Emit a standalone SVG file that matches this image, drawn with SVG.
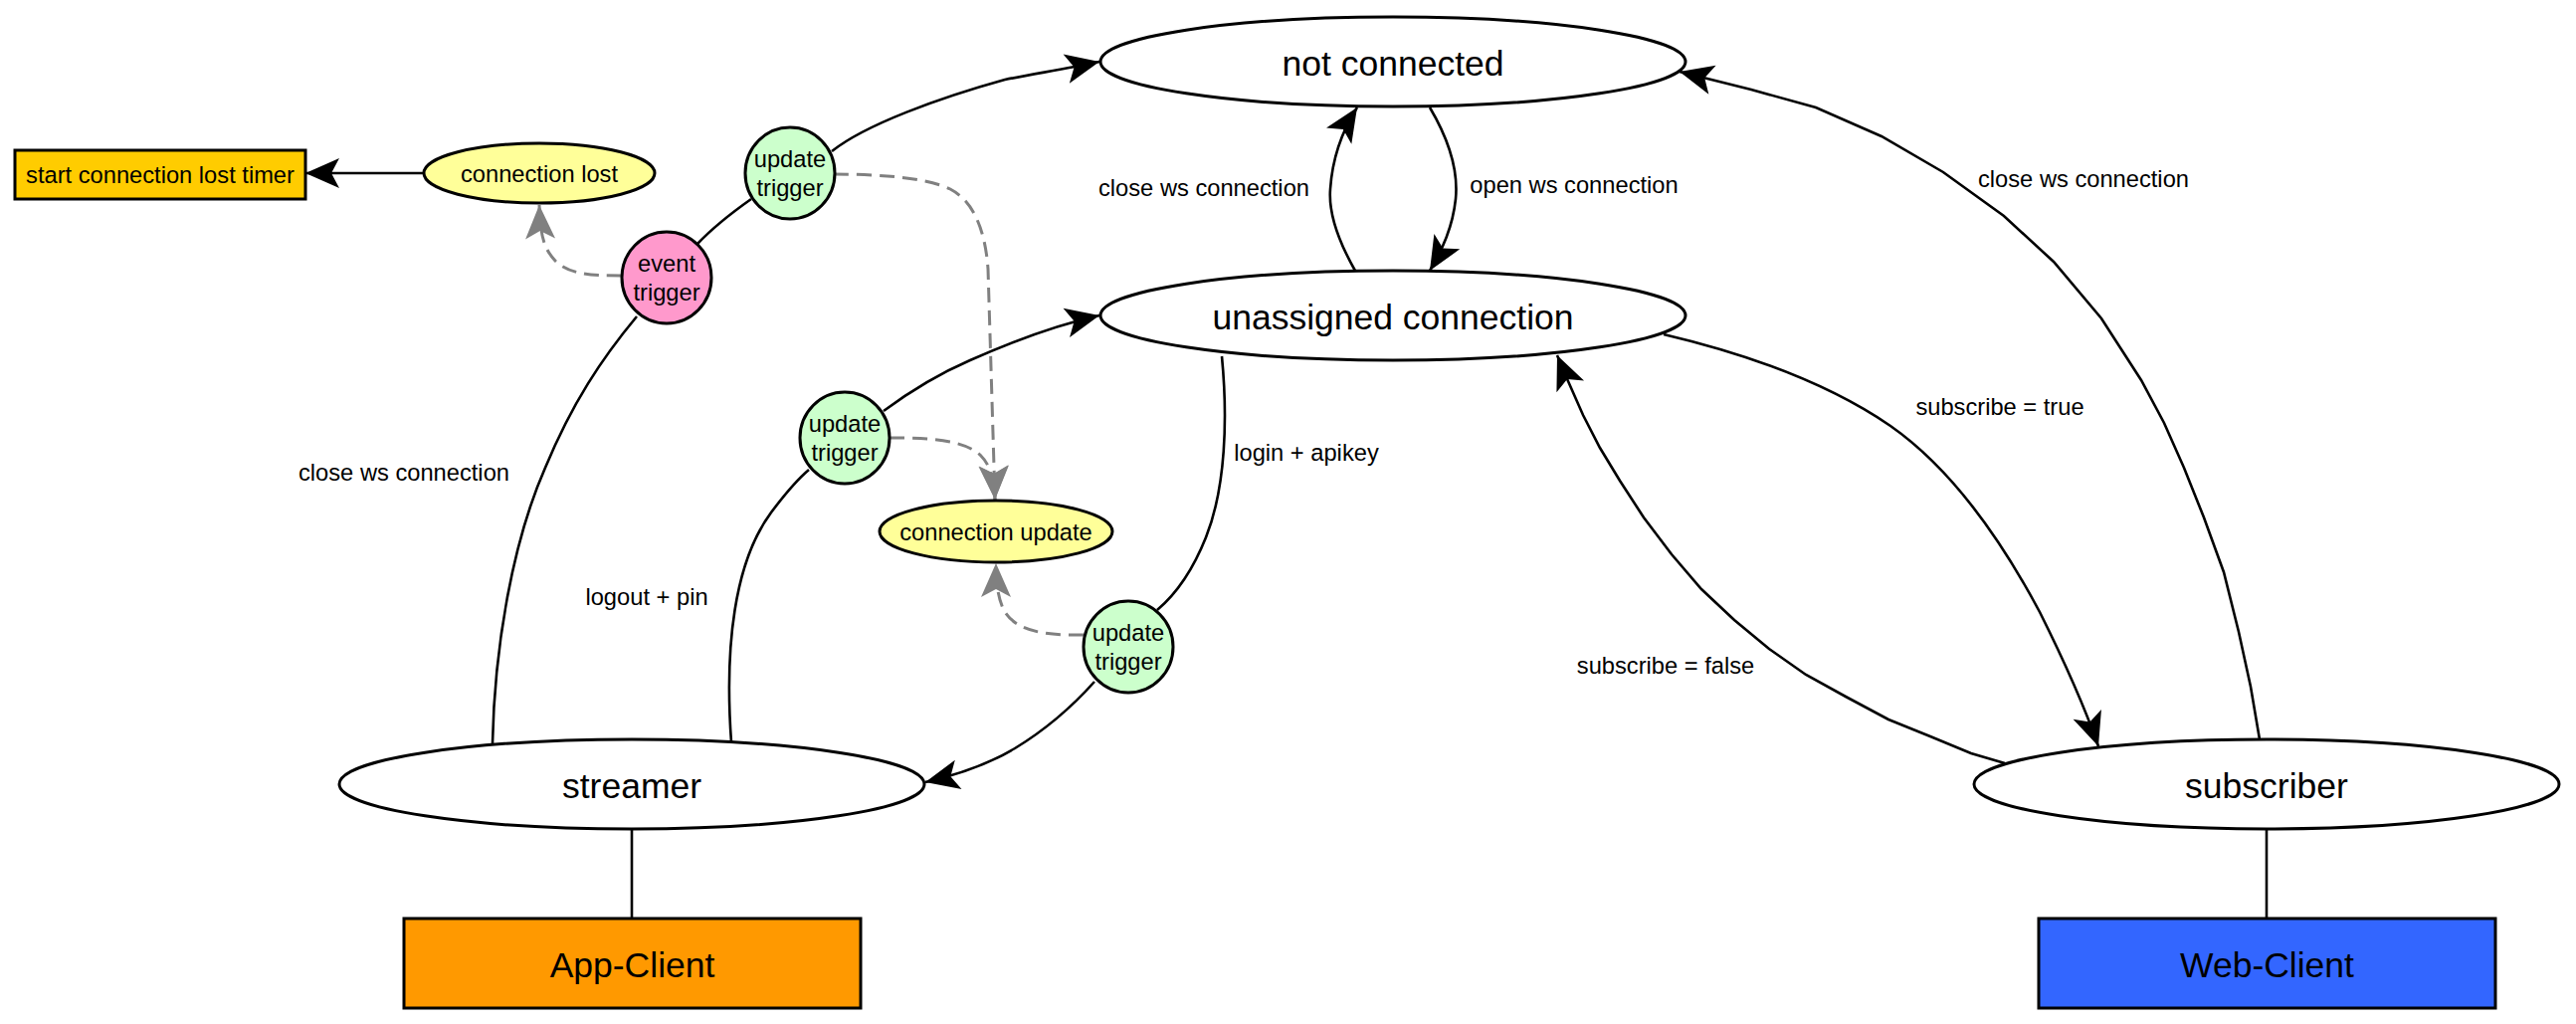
<svg xmlns="http://www.w3.org/2000/svg" width="2589" height="1029" viewBox="0 0 2589 1029">
<style>
text{font-family:"Liberation Sans",Arial,sans-serif;fill:#000}
.big{font-size:35.5px;text-anchor:middle}
.sm{font-size:23.7px;text-anchor:middle}
.lbl{font-size:23.7px;text-anchor:middle}
.node{stroke:#000;stroke-width:3}
.e{fill:none;stroke:#000;stroke-width:2.6}
.d{fill:none;stroke:#808080;stroke-width:3;stroke-dasharray:15 8}
</style>
<defs>
<marker id="ah" viewBox="-36 -17 38 34" refX="0" refY="0" markerWidth="38" markerHeight="34" markerUnits="userSpaceOnUse" orient="auto">
<path d="M0,0 L-34,-15 L-26,0 L-34,15 Z" fill="#000"/>
</marker>
<marker id="ag" viewBox="-36 -17 38 34" refX="0" refY="0" markerWidth="38" markerHeight="34" markerUnits="userSpaceOnUse" orient="auto">
<path d="M0,0 L-34,-15 L-26,0 L-34,15 Z" fill="#808080"/>
</marker>
</defs>
<rect width="2589" height="1029" fill="#fff"/>
<g id="connectors">
<path class="e" d="M495,747 C497,650 515,545 548,470 C575,405 605,360 640,318"/>
<path class="e" d="M701,245 C720,225 738,212 755,200"/>
<path class="e" d="M836,152 C870,125 945,98 1010,80 C1040,74 1072,69 1105,62" marker-end="url(#ah)"/>
<path class="e" d="M735,746 C728,650 738,565 775,515 C790,495 800,483 813,472"/>
<path class="e" d="M888,413 C915,393 945,375 975,362 C1020,342 1060,327 1105,317" marker-end="url(#ah)"/>
<path class="e" d="M1228,358 C1234,420 1232,490 1212,540 C1198,575 1182,597 1163,613"/>
<path class="e" d="M1100,685 C1075,713 1048,735 1020,752 C995,767 965,778 930,786" marker-end="url(#ah)"/>
<path class="e" d="M1437,108 C1456,140 1466,170 1463,200 C1460,228 1450,250 1437,272" marker-end="url(#ah)"/>
<path class="e" d="M1362,272 C1345,242 1335,215 1337,190 C1339,160 1348,133 1364,108" marker-end="url(#ah)"/>
<path class="e" d="M2271,743 L2262,690 L2250,635 L2235,575 L2215,520 L2195,470 L2175,425 L2152,382 L2112,320 L2064,263 L2014,217 L1953,173 L1891,137 L1825,108 L1760,90 L1688,72" marker-end="url(#ah)"/>
<path class="e" d="M1672,336 C1740,352 1830,380 1900,428 C1960,470 2010,540 2050,615 C2075,665 2095,710 2109,750" marker-end="url(#ah)"/>
<path class="e" d="M2015,767 L1981,757 L1940,740 L1898,723 L1855,700 L1815,678 L1778,652 L1743,623 L1710,592 L1680,557 L1652,520 L1628,483 L1608,450 L1591,417 L1576,383 L1565,357" marker-end="url(#ah)"/>
<path class="e" d="M426,174 L307,174" marker-end="url(#ah)"/>
<path class="e" d="M635,833 L635,923"/>
<path class="e" d="M2278,833 L2278,923"/>
<path class="d" d="M625,277 C595,277 572,276 558,262 C547,250 543,238 542,206" marker-end="url(#ag)"/>
<path class="d" d="M838,175 C880,175 930,178 955,190 C978,202 990,230 993,270 L1000,502" marker-end="url(#ag)"/>
<path class="d" d="M894,440 C935,440 968,442 985,457 C995,467 999,480 1000,502" marker-end="url(#ag)"/>
<path class="d" d="M1089,638 C1050,639 1022,634 1010,615 C1003,603 1001,585 1001,566" marker-end="url(#ag)"/>
<text class="lbl" x="406" y="483">close ws connection</text>
<text class="lbl" x="650" y="608">logout + pin</text>
<text class="lbl" x="1313" y="463">login + apikey</text>
<text class="lbl" x="1210" y="197">close ws connection</text>
<text class="lbl" x="1582" y="193.5">open ws connection</text>
<text class="lbl" x="2094" y="188">close ws connection</text>
<text class="lbl" x="2010" y="417">subscribe = true</text>
<text class="lbl" x="1674" y="677">subscribe = false</text>
</g>
<g id="not_connected">
<ellipse class="node" cx="1400" cy="62" rx="294" ry="45" fill="#fff"/>
<text class="big" x="1400" y="76">not connected</text>
</g>
<g id="unassigned_connection">
<ellipse class="node" cx="1400" cy="317" rx="294" ry="45" fill="#fff"/>
<text class="big" x="1400" y="331">unassigned connection</text>
</g>
<g id="streamer">
<ellipse class="node" cx="635" cy="788" rx="294" ry="45" fill="#fff"/>
<text class="big" x="635" y="801.5">streamer</text>
</g>
<g id="subscriber">
<ellipse class="node" cx="2278" cy="788" rx="294" ry="45" fill="#fff"/>
<text class="big" x="2278" y="801.5">subscriber</text>
</g>
<g id="app_client">
<rect class="node" x="406" y="923" width="459" height="90" fill="#ff9900"/>
<text class="big" x="635.5" y="982">App-Client</text>
</g>
<g id="web_client">
<rect class="node" x="2049" y="923" width="459" height="90" fill="#3366ff"/>
<text class="big" x="2278.5" y="982">Web-Client</text>
</g>
<g id="start_timer">
<rect class="node" x="15" y="151" width="292" height="49" fill="#ffcc00"/>
<text class="sm" x="161" y="184">start connection lost timer</text>
</g>
<g id="connection_lost">
<ellipse class="node" cx="542" cy="174" rx="116" ry="30" fill="#ffff99"/>
<text class="sm" x="542" y="182.5">connection lost</text>
</g>
<g id="connection_update">
<ellipse class="node" cx="1001" cy="534" rx="117" ry="31" fill="#ffff99"/>
<text class="sm" x="1001" y="542.5">connection update</text>
</g>
<g id="update_trigger_1">
<ellipse class="node" cx="794" cy="174" rx="45" ry="46" fill="#ccffcc"/>
<text class="sm" x="794" y="168">update</text>
<text class="sm" x="794" y="197">trigger</text>
</g>
<g id="event_trigger">
<ellipse class="node" cx="670" cy="279" rx="45" ry="46" fill="#ff99cc"/>
<text class="sm" x="670" y="273">event</text>
<text class="sm" x="670" y="302">trigger</text>
</g>
<g id="update_trigger_2">
<ellipse class="node" cx="849" cy="440" rx="45" ry="46" fill="#ccffcc"/>
<text class="sm" x="849" y="434">update</text>
<text class="sm" x="849" y="463">trigger</text>
</g>
<g id="update_trigger_3">
<ellipse class="node" cx="1134" cy="650" rx="45" ry="46" fill="#ccffcc"/>
<text class="sm" x="1134" y="644">update</text>
<text class="sm" x="1134" y="673">trigger</text>
</g>
</svg>
